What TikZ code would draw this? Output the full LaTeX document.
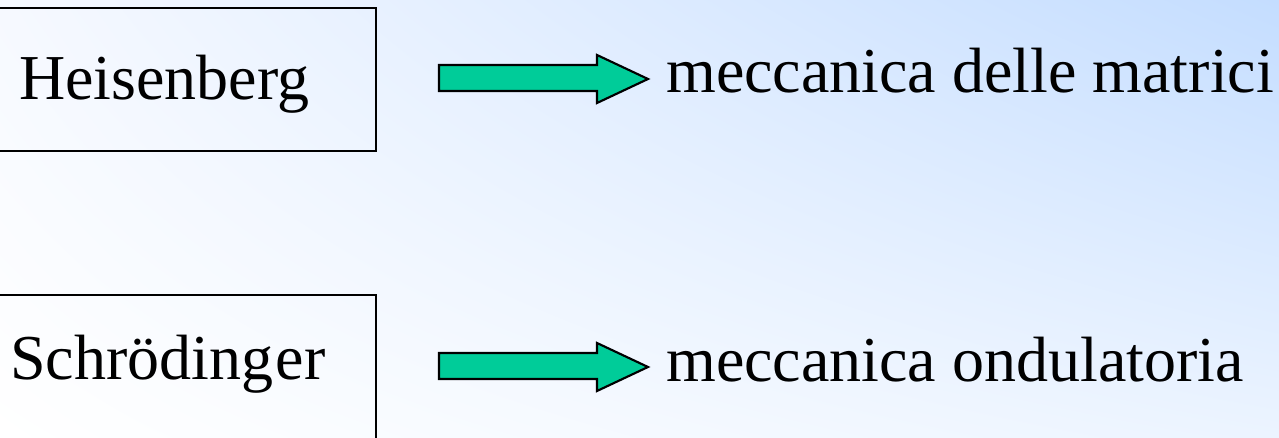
\documentclass[tikz,border=0pt]{standalone}
\usepackage{fontspec}
\setmainfont{Liberation Serif}
\usetikzlibrary{shadings}
\definecolor{bgUR}{RGB}{196,221,255}
\definecolor{bgLR}{RGB}{236,244,255}
\definecolor{bgUL}{RGB}{246,249,255}
\definecolor{bgLL}{RGB}{255,255,255}
\definecolor{arrowgreen}{RGB}{0,204,153}
\tikzset{
  framebox/.style={draw=black, line width=1.6pt, rectangle, inner sep=0pt},
  bigtext/.style={font=\fontsize{48}{56}\selectfont, inner sep=0pt, anchor=base west},
  blockarrow/.style={fill=arrowgreen, draw=black, line width=1.6pt, line join=miter}
}
\begin{document}
\begin{tikzpicture}[x=0.75pt, y=-0.75pt]
\useasboundingbox (0,0) rectangle (1279,438);
\clip (0,0) rectangle (1279,438);
\shade[upper right=bgUR, lower right=bgLR, upper left=bgUL, lower left=bgLL] (0,0) rectangle (1279,438);
% boxes
\node[framebox, minimum width=386*0.75pt, minimum height=143*0.75pt] (hbox) at (183,79.5) {};
\node[framebox, minimum width=386*0.75pt, minimum height=200*0.75pt] (sbox) at (183,395) {};
% labels
\node[bigtext] (heis) at (19,100) {Heisenberg};
\node[bigtext] (schr) at (10,380) {Schröding\kern2pt er};
\node[bigtext] (matr) at (666,93) {meccanica delle matrici};
\node[bigtext] (ond) at (666,382) {meccanica ondulatoria};
% block arrows
\coordinate (a1s) at (439,78);
\coordinate (a2s) at (439,366);
\draw[blockarrow] (a1s) ++(0,-13) -- ++(158,0) -- ++(0,-10) -- ++(51,24) -- ++(-51,24) -- ++(0,-12) -- ++(-158,0) -- cycle;
\draw[blockarrow] (a2s) ++(0,-13) -- ++(158,0) -- ++(0,-10) -- ++(51,24) -- ++(-51,24) -- ++(0,-12) -- ++(-158,0) -- cycle;
\end{tikzpicture}
\end{document}
